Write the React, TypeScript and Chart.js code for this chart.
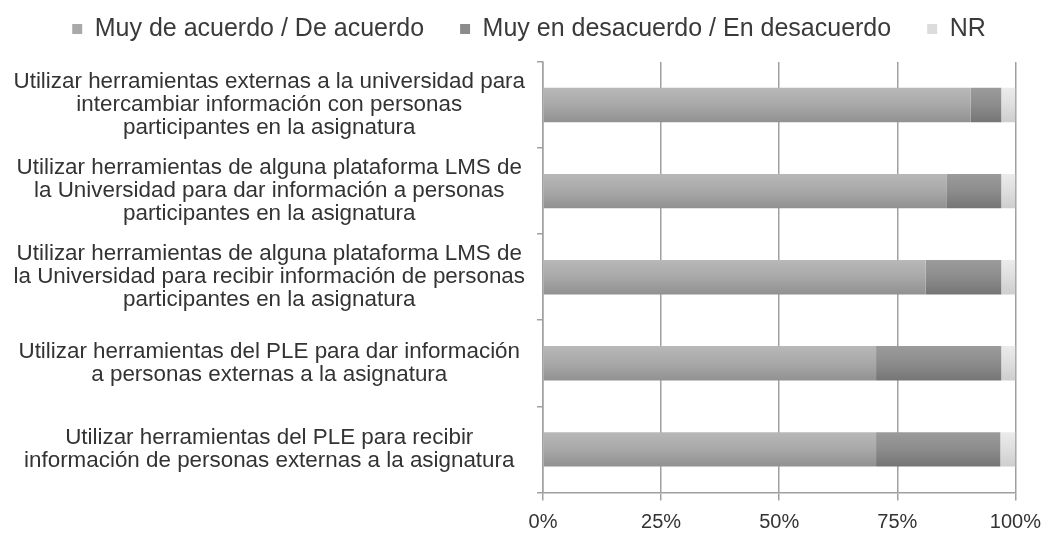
import React, { useEffect, useRef } from "react";
import { Chart, registerables } from "chart.js";

Chart.register(...registerables);

const categories: string[][] = [
  ["Utilizar herramientas externas a la universidad para", "intercambiar información con personas", "participantes en la asignatura"],
  ["Utilizar herramientas de alguna plataforma LMS de", "la Universidad para dar información a personas", "participantes en la asignatura"],
  ["Utilizar herramientas de alguna plataforma LMS de", "la Universidad para recibir información de personas", "participantes en la asignatura"],
  ["Utilizar herramientas del PLE para dar información", "a personas externas a la asignatura"],
  ["Utilizar herramientas del PLE para recibir", "información de personas externas a la asignatura"],
];

const seriesNames = ["Muy de acuerdo / De acuerdo", "Muy en desacuerdo / En desacuerdo", "NR"];
const acuerdo = [90.5, 85.5, 81, 70.5, 70.5];
const desacuerdo = [6.5, 11.5, 16, 26.5, 26.3];
const noResponde = [3, 3, 3, 3, 3.2];
const xTicks = [0, 25, 50, 75, 100];

const legendColors = ["#a9a9a9", "#8c8c8c", "#dcdcdc"];
const gradientStops: [string, string, string][] = [
  ["#b9b9b9", "#a8a8a8", "#909090"],
  ["#9c9c9c", "#8c8c8c", "#747474"],
  ["#ececec", "#dedede", "#cdcdcd"],
];

const legendGap = {
  id: "legendGap",
  beforeLayout(chart: any) {
    const lg = chart.legend;
    if (lg && !lg.__patched) {
      const orig = lg.fit;
      lg.fit = function () {
        orig.call(this);
        this.height += 10.5;
      };
      lg.__patched = true;
    }
  },
};

export default function App() {
  const ref = useRef<HTMLCanvasElement | null>(null);

  useEffect(() => {
    if (!ref.current) return;
    const makeBg = (si: number) => (ctx: any) => {
      const chart = ctx.chart;
      const yScale = chart.scales?.y;
      if (!yScale || ctx.dataIndex === undefined) return gradientStops[si][1];
      const yc = yScale.getPixelForValue(ctx.dataIndex);
      if (!isFinite(yc)) return gradientStops[si][1];
      const half = 18;
      const g = chart.ctx.createLinearGradient(0, yc - half, 0, yc + half);
      g.addColorStop(0, gradientStops[si][0]);
      g.addColorStop(0.5, gradientStops[si][1]);
      g.addColorStop(1, gradientStops[si][2]);
      return g;
    };
    const values = [acuerdo, desacuerdo, noResponde];
    const chart = new Chart(ref.current, {
      type: "bar",
      data: {
        labels: categories,
        datasets: seriesNames.map((name, i) => ({
          label: name,
          data: values[i],
          backgroundColor: makeBg(i),
          borderWidth: 0,
          categoryPercentage: 0.8,
          barPercentage: 0.5,
        })),
      },
      plugins: [legendGap],
      options: {
        indexAxis: "y",
        animation: false,
        responsive: true,
        maintainAspectRatio: false,
        layout: { padding: { left: 12, right: 5, top: -19.5, bottom: -9 } },
        plugins: {
          tooltip: { enabled: false },
          legend: {
            position: "top",
            labels: {
              color: "#3a3a3a",
              font: { family: "Liberation Sans", size: 25 },
              boxWidth: 10,
              boxHeight: 10,
              padding: 36,
              generateLabels: (c: any) =>
                c.data.datasets.map((d: any, i: number) => ({
                  text: d.label,
                  fillStyle: legendColors[i],
                  strokeStyle: legendColors[i],
                  lineWidth: 0,
                  hidden: false,
                  datasetIndex: i,
                  fontColor: "#3a3a3a",
                })),
            },
          },
        },
        scales: {
          x: {
            stacked: true,
            min: 0,
            max: 100,
            afterBuildTicks: (axis: any) => {
              axis.ticks = xTicks.map((v) => ({ value: v }));
            },
            ticks: {
              color: "#333333",
              font: { family: "Liberation Sans", size: 20 },
              padding: 10,
              callback: (v: any) => v + "%",
            },
            grid: {
              color: "#a0a0a0",
              lineWidth: 1.5,
              tickLength: 8,
              drawTicks: true,
            },
            border: { color: "#a0a0a0", width: 1.5 },
          },
          y: {
            stacked: true,
            afterFit: (axis: any) => {
              axis.width = 531;
            },
            ticks: {
              color: "#333333",
              font: { family: "Liberation Sans", size: 22.4, lineHeight: 1.03 },
              crossAlign: "center",
              padding: 12,
            },
            grid: {
              offset: true,
              drawOnChartArea: false,
              color: "#a0a0a0",
              lineWidth: 1.5,
              tickLength: 6,
            },
            border: { color: "#a0a0a0", width: 1.5 },
          },
        },
      },
    } as any);
    return () => chart.destroy();
  }, []);

  return (
    <div style={{ position: "absolute", left: 0, top: 0, width: 1051, height: 539, background: "#ffffff" }}>
      <canvas ref={ref} />
    </div>
  );
}
